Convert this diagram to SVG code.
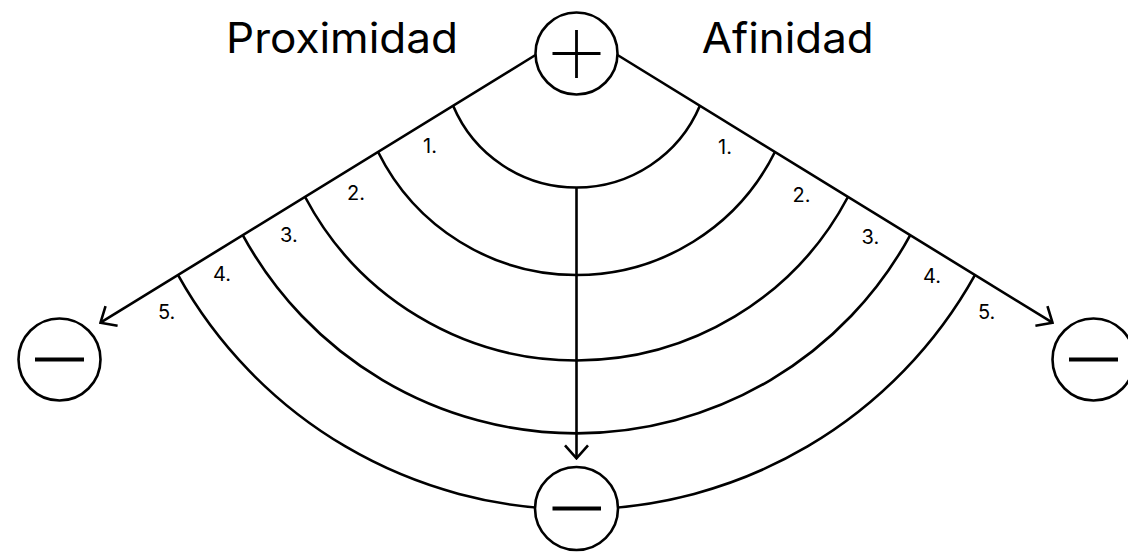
<svg xmlns="http://www.w3.org/2000/svg" width="1128" height="552" viewBox="0 0 1128 552">
<style>
.ln{fill:none;stroke:#000;stroke-width:2.6;stroke-linecap:butt}
.node{fill:#fff;stroke:#000;stroke-width:2.6}
.sym{stroke:#000;stroke-width:2.8;fill:none}
.minus{stroke:#000;stroke-width:4;fill:none}
.title{font-family:Inter,"Liberation Sans",sans-serif;font-size:42px;fill:#000}
.num{font-family:Inter,"Liberation Sans",sans-serif;font-size:20px;fill:#000}
</style>
<defs>
<marker id="arr" viewBox="-16 -14 18 28" markerWidth="18" markerHeight="28" refX="0" refY="0" orient="auto" markerUnits="userSpaceOnUse">
<path d="M-13,-11.5 L0,0 L-13,11.5" fill="none" stroke="#000" stroke-width="2.6"/>
</marker>
</defs>
<rect width="1128" height="552" fill="#fff"/>
<g id="connectors">
<line class="ln" x1="535.5" y1="55" x2="100.5" y2="322.7" marker-end="url(#arr)"/>
<line class="ln" x1="617.5" y1="55" x2="1052.5" y2="322.7" marker-end="url(#arr)"/>
<line class="ln" x1="576.5" y1="187.5" x2="576.5" y2="458.3" marker-end="url(#arr)"/>
<path class="ln" d="M453.1,105.8 A134,134 0 0 0 699.9,105.8"/>
<path class="ln" d="M378.1,152 A221.5,221.5 0 0 0 774.9,152"/>
<path class="ln" d="M305.1,197 A307,307 0 0 0 847.9,197"/>
<path class="ln" d="M242.9,235.3 A380,380 0 0 0 910.1,235.3"/>
<path class="ln" d="M178.1,275.2 A456,456 0 0 0 974.9,275.2"/>
</g>
<g id="labels">
<text class="title" x="226" y="53.3" textLength="232" lengthAdjust="spacingAndGlyphs">Proximidad</text>
<text class="title" x="701.7" y="53.3" textLength="172" lengthAdjust="spacingAndGlyphs">Afinidad</text>
<text class="num" x="423" y="153.3">1.</text>
<text class="num" x="347" y="200">2.</text>
<text class="num" x="280" y="242.3">3.</text>
<text class="num" x="213" y="280.7">4.</text>
<text class="num" x="158" y="319">5.</text>
<text class="num" x="718" y="154.3">1.</text>
<text class="num" x="792.5" y="201.7">2.</text>
<text class="num" x="861.5" y="244">3.</text>
<text class="num" x="923" y="283.3">4.</text>
<text class="num" x="978" y="319">5.</text>
</g>
<g id="node-plus">
<circle class="node" cx="576.5" cy="53.5" r="41"/>
<path class="sym" d="M552.5,53.5 H600.5 M576.5,30 V78"/>
</g>
<g id="node-minus-left">
<circle class="node" cx="59.5" cy="359.5" r="41"/>
<path class="minus" d="M35,359.5 H84"/>
</g>
<g id="node-minus-right">
<circle class="node" cx="1093.5" cy="359.5" r="41"/>
<path class="minus" d="M1069,359.5 H1118"/>
</g>
<g id="node-minus-bottom">
<circle class="node" cx="576.5" cy="508.5" r="41.5"/>
<path class="minus" d="M552.5,508.5 H601"/>
</g>
</svg>
